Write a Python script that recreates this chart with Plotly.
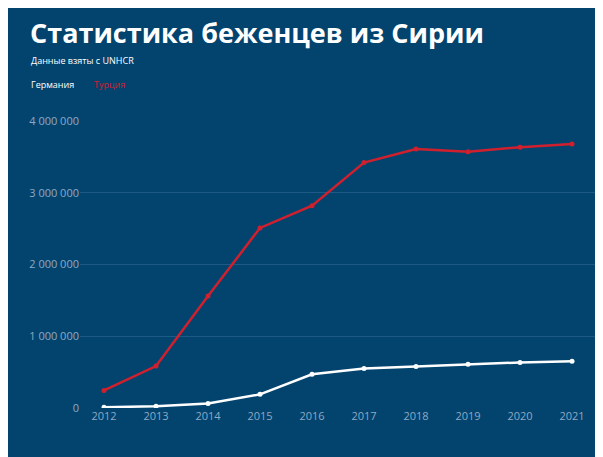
import plotly.graph_objects as go

years = [2012, 2013, 2014, 2015, 2016, 2017, 2018, 2019, 2020, 2021]
germany = [10000, 25000, 63000, 190000, 470000, 550000, 580000, 610000, 635000, 650000]
turkey = [245000, 585000, 1560000, 2510000, 2820000, 3420000, 3610000, 3570000, 3635000, 3680000]
y_ticks = [0, 1000000, 2000000, 3000000, 4000000]

BG = "#03446f"
RED = "#d0202e"
WHITE = "#ffffff"
TICK = "#8ea9c3"
GRID = "#1e5a86"

W, H = 603, 457
L, R, T, B = 72, 8, 113, 57
pw = W - L - R
ph = H - T - B

def px_x(x):
    return (x - L) / pw

def px_y(y):
    return (H - B - y) / ph

fig = go.Figure()
fig.add_trace(go.Scatter(x=years, y=germany, mode="lines+markers", name="Германия",
                         line=dict(color=WHITE, width=2.5), marker=dict(color=WHITE, size=5)))
fig.add_trace(go.Scatter(x=years, y=turkey, mode="lines+markers", name="Турция",
                         line=dict(color=RED, width=2.5), marker=dict(color=RED, size=5)))

fig.add_annotation(text="<b>Статистика беженцев из Сирии</b>", xref="paper", yref="paper",
                   x=px_x(20), y=px_y(24), xanchor="left", yanchor="middle", showarrow=False,
                   font=dict(family="Open Sans", size=27, color=WHITE))
fig.add_annotation(text="Данные взяты с UNHCR", xref="paper", yref="paper",
                   x=px_x(21), y=px_y(53), xanchor="left", yanchor="middle", showarrow=False,
                   font=dict(family="Open Sans", size=9, color=WHITE))
fig.add_annotation(text="Германия", xref="paper", yref="paper",
                   x=px_x(21), y=px_y(77), xanchor="left", yanchor="middle", showarrow=False,
                   font=dict(family="Open Sans", size=9, color=WHITE))
fig.add_annotation(text="Турция", xref="paper", yref="paper",
                   x=px_x(84), y=px_y(77), xanchor="left", yanchor="middle", showarrow=False,
                   font=dict(family="Open Sans", size=9, color=RED))

fig.update_layout(
    width=W, height=H,
    margin=dict(l=L, r=R, t=T, b=B),
    paper_bgcolor=BG,
    plot_bgcolor=BG,
    showlegend=False,
    separators=". ",
    font=dict(family="Open Sans", color=TICK, size=11),
    xaxis=dict(range=[2011.538, 2021.596], tickvals=years, showgrid=False, zeroline=False,
               showline=False, ticks="", tickfont=dict(size=11, color=TICK)),
    yaxis=dict(range=[0, 4000000], tickvals=y_ticks, tickformat=",d", gridcolor=GRID,
               gridwidth=1, zeroline=False, showline=False, ticks="",
               tickfont=dict(size=11, color=TICK)),
)

fig.write_html("out.html")
